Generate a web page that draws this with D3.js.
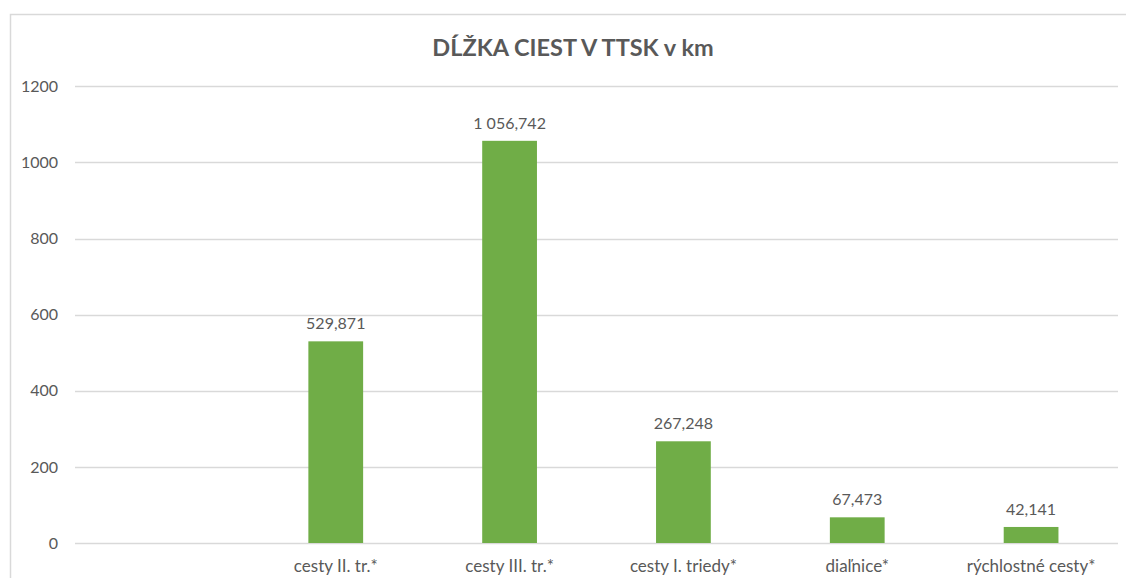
<!DOCTYPE html>
<html>
<head>
<meta charset="utf-8">
<script src="https://cdn.jsdelivr.net/npm/d3@7"></script>
<style>
  body { margin: 0; background: #fff; }
  svg { display: block; font-family: Lato, "Open Sans", sans-serif; }
</style>
</head>
<body>
<svg id="canvas" width="1126" height="578"></svg>
<script>
// chart data
const categories = ["", "cesty II. tr.*", "cesty III. tr.*", "cesty I. triedy*", "diaľnice*", "rýchlostné cesty*"];
const values = [null, 529.871, 1056.742, 267.248, 67.473, 42.141];
const yTicks = [0, 200, 400, 600, 800, 1000, 1200];
const title = "DĹŽKA CIEST V TTSK v km";

const svg = d3.select("#canvas");
const textColor = "#595959";

// outer chart frame (only left and top edges fall inside the window)
svg.append("rect")
    .attr("x", 10.5).attr("y", 14.5)
    .attr("width", 1200).attr("height", 700)
    .attr("fill", "none")
    .attr("stroke", "#d9d9d9")
    .attr("stroke-width", 1.5);

const plotLeft = 75, plotRight = 1118;

var xScale = d3.scaleBand().domain(categories).range([plotLeft, plotRight]).paddingInner(0.685).paddingOuter(0.3425);
var yScale = d3.scaleLinear().domain([0, 1200]).range([543, 86.3]);

// Slovak number format: space for thousands, comma for decimals
const sk = d3.formatLocale({ decimal: ",", thousands: " ", grouping: [3], currency: ["", " €"] });
const fmt = sk.format(",.3f");

// gridlines
svg.append("g")
    .selectAll("line")
    .data(yTicks)
    .enter()
    .append("line")
    .attr("x1", plotLeft)
    .attr("x2", plotRight)
    .attr("y1", d => Math.round(yScale(d)) + 0.5)
    .attr("y2", d => Math.round(yScale(d)) + 0.5)
    .attr("stroke", "#d9d9d9")
    .attr("stroke-width", 1.3);

// y axis labels
var yAxis = svg.append("g")
    .attr("transform", `translate(${plotLeft - 17}, 0)`)
    .call(d3.axisLeft(yScale).tickValues(yTicks).tickFormat(d3.format("d")).tickSize(0).tickPadding(0));
yAxis.select(".domain").remove();
yAxis.selectAll("text")
    .attr("fill", textColor)
    .style("font-size", "16px")
    .style("font-family", "Lato, 'Open Sans', sans-serif");

// bars
const barData = categories.map((c, i) => ({ cat: c, val: values[i] })).filter(d => d.val !== null);

svg.append("g")
    .selectAll("rect")
    .data(barData)
    .enter()
    .append("rect")
    .attr("x", d => xScale(d.cat))
    .attr("width", xScale.bandwidth())
    .attr("y", d => yScale(d.val))
    .attr("height", d => yScale(0) - yScale(d.val))
    .attr("fill", "#70ad47");

// data labels
svg.append("g")
    .selectAll("text")
    .data(barData)
    .enter()
    .append("text")
    .attr("x", d => xScale(d.cat) + xScale.bandwidth() / 2)
    .attr("y", d => yScale(d.val) - 12)
    .attr("text-anchor", "middle")
    .attr("fill", textColor)
    .style("font-size", "16px")
    .text(d => fmt(d.val));

// category labels
var xAxis = svg.append("g")
    .attr("transform", `translate(0, ${yScale(0) + 15})`)
    .call(d3.axisBottom(xScale).tickSize(0).tickPadding(0));
xAxis.select(".domain").remove();
xAxis.selectAll("text")
    .attr("fill", textColor)
    .attr("dy", "0.8em")
    .style("font-size", "17px")
    .style("font-family", "Lato, 'Open Sans', sans-serif");

// title
svg.append("text")
    .attr("x", 573)
    .attr("y", 56)
    .attr("text-anchor", "middle")
    .attr("fill", textColor)
    .style("font-size", "23.5px")
    .style("font-weight", "bold")
    .text(title);
</script>
</body>
</html>
